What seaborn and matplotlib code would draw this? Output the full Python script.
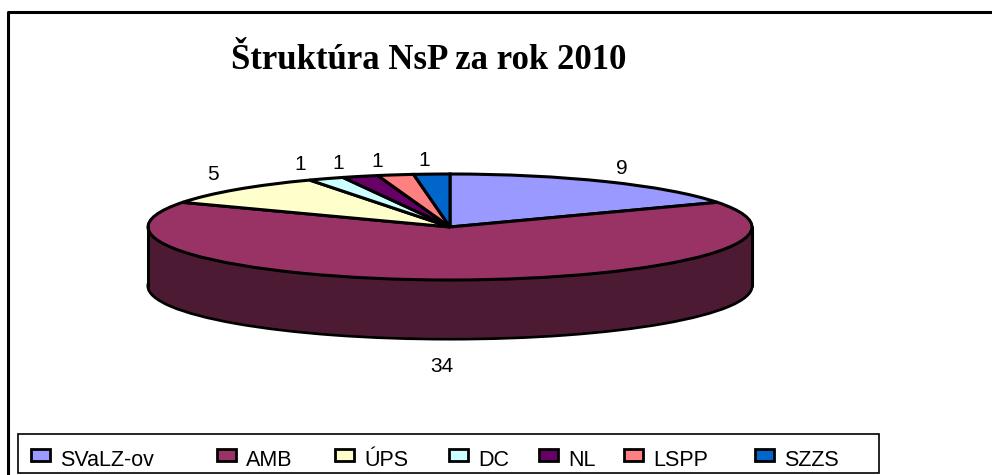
import matplotlib
matplotlib.use("Agg")
import matplotlib.pyplot as plt
from matplotlib.patches import Rectangle
import seaborn as sns

categories = ["SVaLZ-ov", "AMB", "ÚPS", "DC", "NL", "LSPP", "SZZS"]
values = [9, 34, 5, 1, 1, 1, 1]
colors = ["#9999FF", "#993366", "#FFFFCC", "#CCFFFF", "#660066", "#FF8080", "#0066CC"]
side_color = "#4C1B33"

W, H = 992, 475
CX, CY = 450, 227
RX, RY = 302, 53
DEPTH = 59

sns.set_theme(style="white")
plt.rcParams["font.family"] = ["Liberation Sans", "DejaVu Sans"]

fig = plt.figure(figsize=(W / 100, H / 100), dpi=100)
ax = fig.add_axes([0, 0, 1, 1])

# pie is squashed: x units are pixels, y is stretched so a circle turns into the ellipse
scale = RX / RY


def y_(py):
    return (H - py) * scale


# side wall: dark copies of the pie stacked below the top
ax.pie([sum(values)], colors=[side_color], radius=RX, center=(CX, y_(CY + DEPTH)), frame=False,
       wedgeprops=dict(lw=2.2, ec="black"))
for d in range(DEPTH - 1, 0, -1):
    ax.pie([sum(values)], colors=[side_color], radius=RX - 1, center=(CX, y_(CY + d)),
           frame=False, wedgeprops=dict(lw=0))
ax.plot([CX - RX, CX - RX], [y_(CY), y_(CY + DEPTH)], color="black", lw=2.2)
ax.plot([CX + RX, CX + RX], [y_(CY), y_(CY + DEPTH)], color="black", lw=2.2)

# top face
ax.pie(values, colors=colors, radius=RX, center=(CX, y_(CY)), startangle=90, counterclock=False,
       frame=False, wedgeprops=dict(lw=2.2, ec="black"))

ax.set_xlim(0, W)
ax.set_ylim(0, H * scale)
ax.set_aspect("auto")
ax.axis("off")

# outer chart frame: only left and top are in the picture
ax.plot([8, 8, W], [0, y_(12), y_(12)], color="black", lw=2.2)

# value labels
label_pos = [(622, 168), (442, 367), (213, 175), (300, 164), (338, 163), (377, 161), (424, 160)]
for v, (x, y) in zip(values, label_pos):
    ax.text(x, y_(y), str(v), fontsize=15, ha="center", va="center", color="black")

ax.text(429, y_(60), "Štruktúra NsP za rok 2010", fontsize=25, fontweight="bold",
        family=["Liberation Serif", "DejaVu Serif"], ha="center", va="center", color="black")

# legend
ax.add_patch(Rectangle((18, y_(473)), 861, 39 * scale, fill=True, fc="white", ec="black", lw=1.2, zorder=3))
leg_x = [31, 217, 335, 449, 539, 624, 755]
for name, color, x in zip(categories, colors, leg_x):
    ax.add_patch(Rectangle((x, y_(461)), 19, 12 * scale, fc=color, ec="black", lw=2, zorder=4))
    ax.text(x + 29, y_(461), name, fontsize=15.5, ha="left", va="center", color="black", zorder=4)

fig.savefig("out.png", dpi=100, facecolor="white")
